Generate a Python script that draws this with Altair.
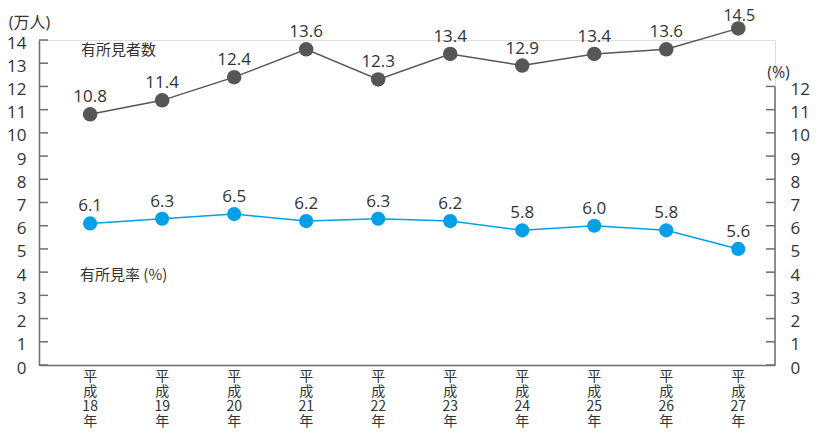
import altair as alt
import pandas as pd

# ---- data ----
years = [18, 19, 20, 21, 22, 23, 24, 25, 26, 27]
counts = [10.8, 11.4, 12.4, 13.6, 12.3, 13.4, 12.9, 13.4, 13.6, 14.5]
count_labels = ["10.8", "11.4", "12.4", "13.6", "12.3", "13.4", "12.9", "13.4", "13.6", "14.5"]
rates = [6.1, 6.3, 6.5, 6.2, 6.3, 6.2, 5.8, 6.0, 5.8, 5.0]  # positions as drawn
rate_labels = ["6.1", "6.3", "6.5", "6.2", "6.3", "6.2", "5.8", "6.0", "5.8", "5.6"]
left_ticks = list(range(0, 15))
right_ticks = list(range(0, 13))

df = pd.DataFrame({
    "yr": years,
    "xl": [f"平\n成\n{y}\n年" for y in years],
    "count": counts,
    "count_txt": count_labels,
    "rate": rates,
    "rate_txt": rate_labels,
})

W, H = 736, 325
FONT = "Open Sans, Noto Sans CJK JP"
CJK = "Noto Sans CJK JP"
TXT = "#333333"
AX = "#6e6e6e"
GRAY = "#565656"
BLUE = "#00a0e9"

xenc = alt.X("yr:Q", scale=alt.Scale(domain=[17.29, 27.51], nice=False, zero=False),
             axis=alt.Axis(labels=False, ticks=False, title=None, grid=False,
                           domainColor=AX, domainWidth=1.5))
ys = alt.Scale(domain=[0, 14], nice=False, zero=True)
yaxis = alt.Axis(values=left_ticks, grid=False, ticks=False, tickSize=0, labelPadding=13,
                 labelFontSize=17, labelColor=TXT, labelFont=FONT, labelOffset=3,
                 domainColor=AX, domainWidth=1.5,
                 title="(万人)", titleAngle=0, titleX=-10, titleY=-18, titleAlign="center",
                 titleBaseline="middle", titleFontSize=16, titleFontWeight="normal",
                 titleColor=TXT, titleFont=FONT)

base = alt.Chart(df)

gray_line = base.mark_line(color=GRAY, strokeWidth=1.5).encode(
    x=xenc, y=alt.Y("count:Q", scale=ys, axis=yaxis))
gray_pts = base.mark_point(filled=True, size=210, color=GRAY, opacity=1).encode(
    x=xenc, y=alt.Y("count:Q", scale=ys, axis=yaxis))
gray_txt = base.transform_filter("datum.count < 14").mark_text(
    dy=-17, fontSize=17, font=FONT, color=TXT, baseline="middle").encode(
    x=xenc, y=alt.Y("count:Q", scale=ys, axis=yaxis), text="count_txt:N")
gray_txt_top = base.transform_filter("datum.count >= 14").mark_text(
    dy=-12, dx=1, fontSize=16, font=FONT, color=TXT, baseline="middle").encode(
    x=xenc, y=alt.Y("count:Q", scale=ys, axis=yaxis), text="count_txt:N")

blue_line = base.mark_line(color=BLUE, strokeWidth=1.5).encode(
    x=xenc, y=alt.Y("rate:Q", scale=ys, axis=yaxis))
blue_pts = base.mark_point(filled=True, size=200, color=BLUE, opacity=1).encode(
    x=xenc, y=alt.Y("rate:Q", scale=ys, axis=yaxis))
blue_txt = base.mark_text(dy=-17, fontSize=17, font=FONT, color=TXT, baseline="middle").encode(
    x=xenc, y=alt.Y("rate:Q", scale=ys, axis=yaxis), text="rate_txt:N")

xlabels = base.mark_text(lineBreak="\n", baseline="top", fontSize=14, lineHeight=15,
                         font=CJK, color=TXT).encode(
    x=xenc, y=alt.value(H + 5), text="xl:N")

left_tick_rules = alt.Chart(pd.DataFrame({"t": left_ticks})).mark_rule(
    color=AX, strokeWidth=1.5).encode(
    x=alt.value(0), x2=alt.value(9), y=alt.Y("t:Q", scale=ys, axis=yaxis))

ann1 = alt.Chart(pd.DataFrame({"t": ["有所見者数"]})).mark_text(
    align="left", baseline="middle", fontSize=15, font=CJK, color=TXT).encode(
    x=alt.value(42), y=alt.value(10), text="t:N")
ann2 = alt.Chart(pd.DataFrame({"t": ["有所見率 (%)"]})).mark_text(
    align="left", baseline="middle", fontSize=15, font=CJK, color=TXT).encode(
    x=alt.value(41), y=alt.value(235), text="t:N")

main = alt.layer(left_tick_rules, gray_line, blue_line, gray_pts, blue_pts,
                 gray_txt, gray_txt_top, blue_txt, xlabels, ann1, ann2)

rscale = alt.Scale(domain=[0, 12], range=[H, H - 12 * H / 14], nice=False, zero=True)
raxis = alt.Axis(orient="right", values=right_ticks, grid=False, ticks=False, tickSize=0,
                 domain=False,
                 labelPadding=15, labelFontSize=17, labelColor=TXT, labelFont=FONT,
                 labelOffset=3,
                 title="(%)", titleAngle=0, titleX=3, titleY=32, titleAlign="center",
                 titleBaseline="middle", titleFontSize=16, titleFontWeight="normal",
                 titleColor=TXT, titleFont=FONT)
right_ticks_layer = alt.Chart(pd.DataFrame({"t": right_ticks})).mark_rule(
    color=AX, strokeWidth=1.5).encode(
    x=alt.value(W - 9), x2=alt.value(W),
    y=alt.Y("t:Q", scale=rscale, axis=raxis))
right_line = alt.Chart(pd.DataFrame({"a": [right_ticks[0]], "b": [right_ticks[-1]]})).mark_rule(
    color=AX, strokeWidth=1.5).encode(
    x=alt.value(W), y=alt.Y("a:Q", scale=rscale, axis=raxis), y2="b:Q")
right = alt.layer(right_ticks_layer, right_line)

chart = alt.layer(main, right).resolve_scale(y="independent").properties(
    width=W, height=H,
    padding={"left": 31, "top": 32, "right": 35, "bottom": 64},
    autosize=alt.AutoSizeParams(type="none"),
).configure_view(stroke=None).configure(background="white")

chart.save("out.html", embed_options={"renderer": "svg", "actions": False})
